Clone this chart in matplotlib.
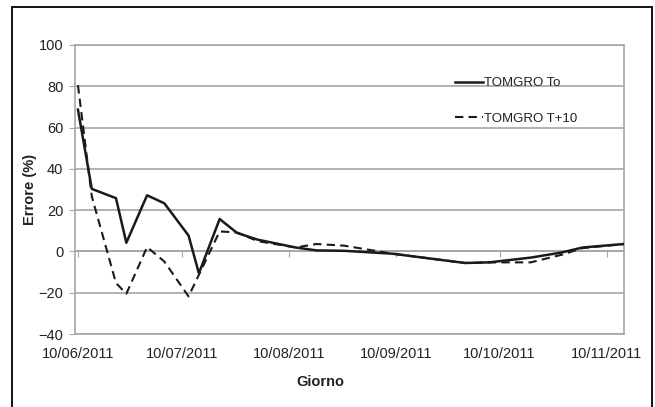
import matplotlib
matplotlib.use("Agg")
import matplotlib.pyplot as plt
from matplotlib.patches import Rectangle
import datetime as dt

plt.rcParams['font.family'] = ['Liberation Sans', 'DejaVu Sans']

dates = ["2011-06-10", "2011-06-14", "2011-06-21", "2011-06-24", "2011-06-30",
         "2011-07-05", "2011-07-12", "2011-07-15", "2011-07-21", "2011-07-26",
         "2011-08-01", "2011-08-12", "2011-08-18", "2011-08-26", "2011-09-09",
         "2011-09-30", "2011-10-07", "2011-10-19", "2011-10-28", "2011-11-03",
         "2011-11-15"]
tomgro_to = [68.7, 30.3, 25.8, 4.2, 27.2, 23.3, 7.7, -10.6, 15.7, 9.0,
             5.7, 1.9, 0.5, 0.3, -1.1, -5.6, -5.3, -3.0, -0.5, 1.9, 3.6]
tomgro_t10 = [80.5, 26.7, -15.3, -20.5, 2.1, -4.9, -21.8, -11.3, 9.7, 9.2,
              5.0, 1.9, 3.6, 2.8, -1.1, -5.6, -5.3, -5.3, -1.6, 1.6, 3.6]
tick_dates = ["2011-06-10", "2011-07-10", "2011-08-10", "2011-09-10",
              "2011-10-10", "2011-11-10"]
tick_labels = ["10/06/2011", "10/07/2011", "10/08/2011", "10/09/2011",
               "10/10/2011", "10/11/2011"]
y_ticks = [-40, -20, 0, 20, 40, 60, 80, 100]

x = [dt.datetime.strptime(d, "%Y-%m-%d") for d in dates]
xt = [dt.datetime.strptime(d, "%Y-%m-%d") for d in tick_dates]

W, H = 655, 407
fig = plt.figure(figsize=(W / 100, H / 100), dpi=100)
L, R, T, B = 74.5, 624, 45, 334
ax = fig.add_axes([L / W, 1 - B / H, (R - L) / W, (B - T) / H])

grid_c = '#a6a6a6'
ax.set_ylim(-40, 100)
ax.set_yticks(y_ticks)
ax.yaxis.grid(True, color=grid_c, lw=1.2, zorder=0)
ax.set_axisbelow(True)
ax.set_xlim(dt.datetime(2011, 6, 9), dt.datetime(2011, 11, 15))
ax.set_xticks(xt)
ax.set_xticklabels(tick_labels)
ax.tick_params(axis='x', length=0, pad=9, labelsize=10.5, labelcolor='#222222')
ax.tick_params(axis='y', length=4, color=grid_c, pad=4, labelsize=10.5, labelcolor='#222222')
for s in ax.spines.values():
    s.set_color(grid_c)
    s.set_linewidth(1.2)

# white area behind the legend that interrupts the gridlines
ax.add_patch(Rectangle((423 / W, 1 - 140 / H), (602 - 423) / W, (140 - 68) / H,
                       transform=fig.transFigure, facecolor='white',
                       edgecolor='none', zorder=0.5))

ax.plot(x, tomgro_to, color='#1a1a1a', lw=1.8, label='TOMGRO To', zorder=3)
ax.plot(x, tomgro_t10, color='#1a1a1a', lw=1.5, ls=(0, (4, 2.5)),
        label='TOMGRO T+10', zorder=3)

sec = ax.secondary_xaxis(40 / 140)
sec.set_xticks(xt)
sec.tick_params(axis='x', length=4, color=grid_c, labelbottom=False, direction='out')
sec.spines['bottom'].set_color(grid_c)
sec.spines['bottom'].set_linewidth(1.2)

ax.set_ylabel('Errore (%)', fontweight='bold', fontsize=10.5, color='#222222')
ax.yaxis.set_label_coords((37 - L) / (R - L), 0.5)
ax.set_xlabel('Giorno', fontweight='bold', fontsize=10.5, color='#222222')
ax.xaxis.set_label_coords((320 - L) / (R - L), -(375 - B) / (B - T))

leg = ax.legend(loc='upper left', bbox_to_anchor=(455 / W, 1 - 77 / H),
                bbox_transform=fig.transFigure, frameon=False, fontsize=9.5,
                handlelength=2.1, handletextpad=0.1, labelspacing=1.75,
                borderpad=0, borderaxespad=0)
for t in leg.get_texts():
    t.set_color('#222222')

fig.patches.append(Rectangle((12 / W, -0.05), (652 - 12) / W, 1.05 - 7 / H,
                             transform=fig.transFigure, fill=False,
                             edgecolor='black', lw=1.3))

fig.savefig('out.png', dpi=100)
